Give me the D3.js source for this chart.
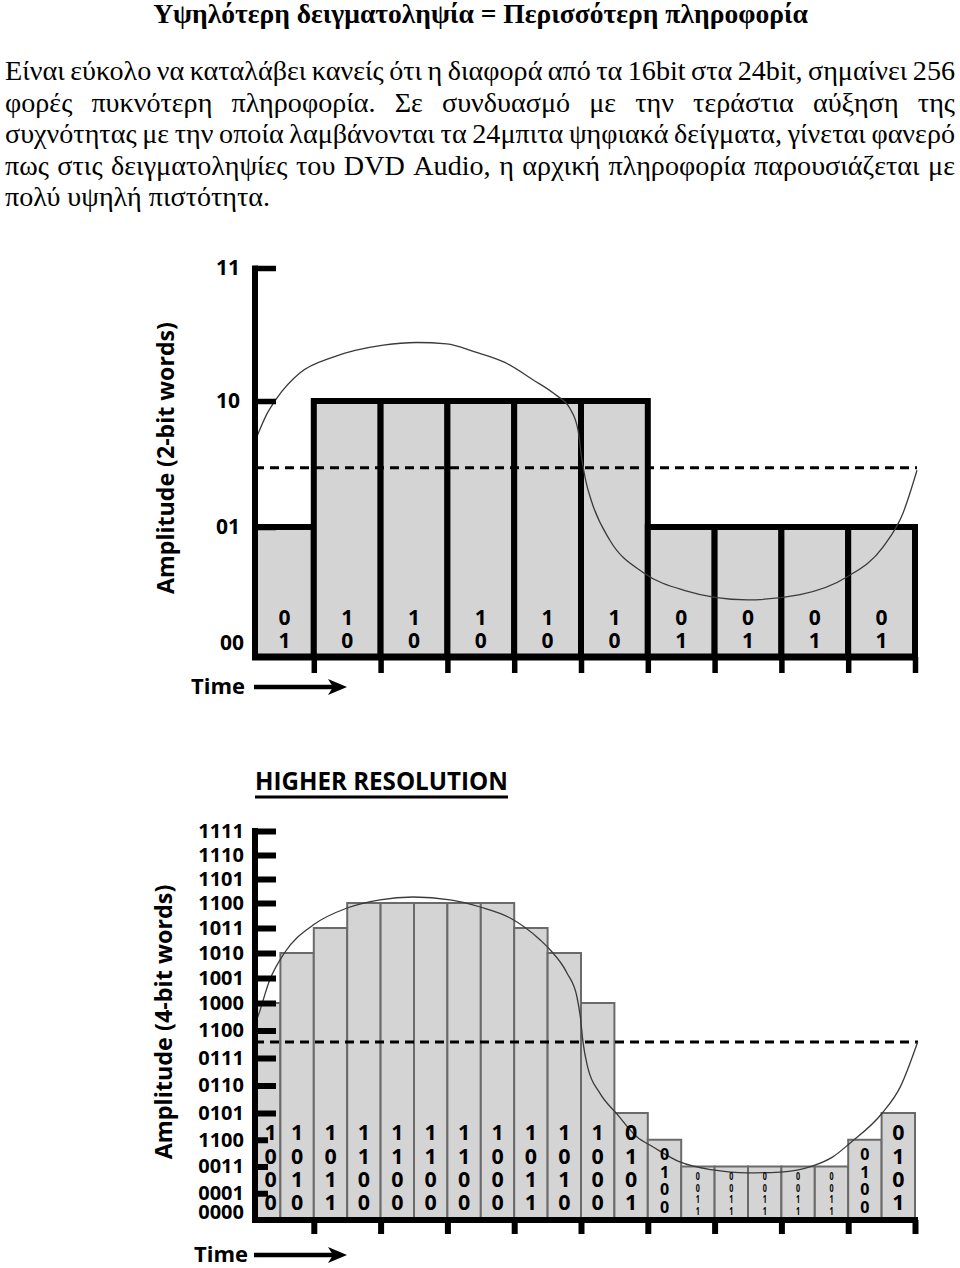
<!DOCTYPE html>
<html><head><meta charset="utf-8">
<script src="https://cdn.jsdelivr.net/npm/d3@7"></script>
<style>body{margin:0;background:#fff} svg{display:block}</style>
</head><body>
<script>
// ---------------- DATA ----------------
const titleText = "Υψηλότερη δειγματοληψία = Περισσότερη πληροφορία";
const paragraphLines = [
  "Είναι εύκολο να καταλάβει κανείς ότι η διαφορά από τα 16bit στα 24bit, σημαίνει 256",
  "φορές πυκνότερη πληροφορία. Σε συνδυασμό με την τεράστια αύξηση της",
  "συχνότητας με την οποία λαμβάνονται τα 24μπιτα ψηφιακά δείγματα, γίνεται φανερό",
  "πως στις δειγματοληψίες του DVD Audio, η αρχική πληροφορία παρουσιάζεται με",
  "πολύ υψηλή πιστότητα."
];

// Chart 1 : 2-bit words
const levels2 = ["00", "01", "10", "11"];
const samples2 = [1, 2, 2, 2, 2, 2, 1, 1, 1, 1];
const center2 = 1.47;
const curve2 = [[0.135,1.70],[0.30,1.90],[0.445,2.02],[0.79,2.21],[1.29,2.33],[2.04,2.42],[2.54,2.44],
  [2.99,2.43],[3.41,2.37],[3.86,2.29],[4.28,2.16],[4.61,2.05],[4.835,1.94],[4.955,1.77],
  [5.015,1.53],[5.07,1.37],[5.16,1.20],[5.43,0.90],[5.93,0.65],[6.53,0.515],[7.49,0.44],[8.28,0.48],[8.98,0.615],
  [9.52,0.846],[9.82,1.11],[10.03,1.45]];
const axisTitle2 = "Amplitude (2-bit words)";

// Chart 2 : 4-bit words
const chart2Title = "HIGHER RESOLUTION";
const levels4 = ["0000","0001","0011","1100","0101","0110","0111","1100","1000","1001","1010","1011","1100","1101","1110","1111"];
const samples4 = [8,10,11,12,12,12,12,12,11,10,8,4,3,2,2,2,2,2,3,4];
const words4 = ["1000","1010","1011","1100","1100","1100","1100","1000","1011","1010","1000","0101","0100","0011","0011","0011","0011","0011","0100","0101"];
const center4 = 6.58;
const curve4 = [[0.13,7.31],[0.16,7.49],[0.34,8.92],[0.57,10.04],[0.99,11.12],[1.50,11.8],[1.99,12.13],
  [2.49,12.25],[3.04,12.13],[3.49,11.84],[3.94,11.4],[4.39,10.52],[4.54,10.12],[4.79,9.2],[4.94,8.24],
  [4.99,7.49],[5.03,6.58],[5.10,5.67],[5.28,4.73],[5.54,3.96],[5.84,3.10],[6.08,2.73],[6.48,2.17],
  [6.98,1.87],[7.49,1.76],[7.98,1.79],[8.47,2.02],[8.77,2.36],[9.03,2.88],[9.51,4.0],[9.78,4.95],[10.04,6.58]];
const axisTitle4 = "Amplitude (4-bit words)";
const timeLabel = "Time";

// ---------------- SETUP ----------------
const W = 960, H = 1268;
const svg = d3.select("body").append("svg").attr("width", W).attr("height", H);
const serif = "'Liberation Serif','Times New Roman',serif";
const sans = "'Open Sans','Liberation Sans',Arial,sans-serif";
const barFill = "#d4d4d4";

function measure(text, family, size, weight) {
  const t = svg.append("text").attr("font-family", family).attr("font-size", size)
    .attr("font-weight", weight).text(text);
  const w = t.node().getComputedTextLength(); t.remove(); return w;
}
function fitSize(text, family, weight, target) {
  return 20 * target / measure(text, family, 20, weight);
}

// ---------------- TEXT ----------------
const titleSize = fitSize(titleText, serif, "bold", 655);
svg.append("text").attr("x", 480.5).attr("y", 23).attr("text-anchor", "middle")
  .attr("font-family", serif).attr("font-weight", "bold").attr("font-size", titleSize)
  .text(titleText);

const pSize = fitSize(paragraphLines[0], serif, "normal", 944) * 1.03;
const pLeft = 5, pRight = 955;
paragraphLines.forEach((line, li) => {
  const yb = 80 + li * 31.5;
  const words = line.split(" ");
  const ws = words.map(w => measure(w, serif, pSize, "normal"));
  const justify = li < paragraphLines.length - 1;
  const sp = justify ? (pRight - pLeft - d3.sum(ws)) / (words.length - 1) : pSize * 0.25;
  let cx = pLeft;
  words.forEach((w, i) => {
    svg.append("text").attr("x", cx).attr("y", yb).attr("font-family", serif)
      .attr("font-size", pSize).text(w);
    cx += ws[i] + sp;
  });
});

// ---------------- SHARED SCALES ----------------
const x = d3.scaleLinear().domain([0, 10]).range([247, 915]);
const axisX = 255;

function timeArrow(yC, textRight) {
  const ts = fitSize(timeLabel, sans, "bold", 54);
  svg.append("text").attr("x", textRight).attr("y", yC + 7).attr("text-anchor", "end")
    .attr("font-family", sans).attr("font-weight", "bold").attr("font-size", ts).text(timeLabel);
  const x0 = axisX - 1, x1 = axisX + 92;
  svg.append("line").attr("x1", x0).attr("x2", x1 - 12).attr("y1", yC).attr("y2", yC)
    .attr("stroke", "#000").attr("stroke-width", 4.5);
  svg.append("path").attr("d", `M${x1},${yC} L${x1 - 19},${yC - 8} L${x1 - 14},${yC} L${x1 - 19},${yC + 8} Z`)
    .attr("fill", "#000");
}

function axisTitle(text, cx, cy, len) {
  const s = fitSize(text, sans, "bold", len);
  svg.append("text").attr("transform", `translate(${cx},${cy}) rotate(-90)`)
    .attr("text-anchor", "middle").attr("dy", "0.35em")
    .attr("font-family", sans).attr("font-weight", "bold").attr("font-size", s).text(text);
}

// ---------------- CHART 1 ----------------
{
  const y = d3.scaleLinear().domain([0, 1, 2, 3]).range([657, 527, 401, 268]);
  const g = svg.append("g");
  g.selectAll("rect.b").data(samples2).join("rect").attr("class", "b")
    .attr("x", (d, i) => Math.max(x(i), axisX))
    .attr("width", (d, i) => x(i + 1) - Math.max(x(i), axisX))
    .attr("y", d => y(d)).attr("height", d => y(0) - y(d))
    .attr("fill", barFill).attr("stroke", "#000").attr("stroke-width", 6);
  g.append("line").attr("x1", axisX).attr("x2", x(10) + 2).attr("y1", y(center2)).attr("y2", y(center2))
    .attr("stroke", "#000").attr("stroke-width", 3).attr("stroke-dasharray", "9,6");
  g.append("path").datum(curve2)
    .attr("d", d3.line().x(d => x(d[0])).y(d => y(d[1])).curve(d3.curveMonotoneX))
    .attr("fill", "none").attr("stroke", "#3a3a3a").attr("stroke-width", 1.3);
  samples2.forEach((v, i) => {
    const cx = (Math.max(x(i), axisX) + x(i + 1)) / 2;
    const word = levels2[v];
    word.split("").forEach((c, j) => {
      g.append("text").attr("x", cx).attr("y", 617 + j * 23.5).attr("dy", "0.36em")
        .attr("text-anchor", "middle").attr("font-family", sans).attr("font-weight", "bold")
        .attr("font-size", 21).text(c);
    });
  });
  g.append("line").attr("x1", axisX).attr("x2", axisX).attr("y1", y(3) - 2.5).attr("y2", y(0) + 3)
    .attr("stroke", "#000").attr("stroke-width", 6);
  const tm = g.append("g").attr("transform", `translate(${axisX},0)`)
    .call(d3.axisRight(y).tickValues([1, 2, 3]).tickSize(21).tickFormat(""));
  tm.select(".domain").remove();
  tm.selectAll("line").attr("stroke", "#000").attr("stroke-width", 5.5);
  const tl = g.append("g").attr("transform", `translate(${axisX},0)`)
    .call(d3.axisLeft(y).tickValues([0, 1, 2, 3]).tickFormat(i => levels2[i]).tickSize(0).tickPadding(15));
  tl.select(".domain").remove();
  tl.selectAll("text").attr("font-family", sans).attr("font-weight", "bold").attr("font-size", 21)
    .attr("fill", "#000");
  tl.selectAll(".tick").filter(d => d === 0).select("text").attr("dy", "-0.34em").attr("x", -11);
  g.append("line").attr("x1", axisX - 3).attr("x2", x(10) + 3).attr("y1", y(0)).attr("y2", y(0))
    .attr("stroke", "#000").attr("stroke-width", 7);
  const xt = g.append("g").attr("transform", `translate(0,${y(0)})`)
    .call(d3.axisBottom(x).tickValues(d3.range(1, 11)).tickSize(16).tickFormat(""));
  xt.select(".domain").remove();
  xt.selectAll("line").attr("stroke", "#000").attr("stroke-width", 5.5);

  axisTitle(axisTitle2, 166, 458, 272);
  timeArrow(687, 245);
}

// ---------------- CHART 2 ----------------
{
  const y = d3.scaleLinear().domain([0, 4, 8, 12, 15]).range([1220, 1113, 1003, 903, 831]);
  const g = svg.append("g");
  const ts = fitSize(chart2Title, sans, "bold", 253);
  g.append("text").attr("x", axisX).attr("y", 790).attr("font-family", sans).attr("font-weight", "bold")
    .attr("font-size", ts).text(chart2Title);
  g.append("rect").attr("x", axisX).attr("y", 795.5).attr("width", 253).attr("height", 3).attr("fill", "#000");

  const bx0 = i => Math.max(x(i * 0.5), axisX);
  const bx1 = i => x((i + 1) * 0.5);
  g.selectAll("rect.b").data(samples4).join("rect").attr("class", "b")
    .attr("x", (d, i) => bx0(i)).attr("width", (d, i) => bx1(i) - bx0(i))
    .attr("y", d => y(d)).attr("height", d => y(0) - y(d))
    .attr("fill", barFill).attr("stroke", "#6a6a6a").attr("stroke-width", 2);
  g.append("line").attr("x1", axisX).attr("x2", x(10) + 3).attr("y1", y(center4)).attr("y2", y(center4))
    .attr("stroke", "#000").attr("stroke-width", 3).attr("stroke-dasharray", "9,6");
  g.append("path").datum(curve4)
    .attr("d", d3.line().x(d => x(d[0])).y(d => y(d[1])).curve(d3.curveMonotoneX))
    .attr("fill", "none").attr("stroke", "#3a3a3a").attr("stroke-width", 1.3);
  samples4.forEach((v, i) => {
    const cx = (bx0(i) + bx1(i)) / 2 + (i === 0 ? 3 : 0);
    const s = Math.min(23.3, (y(0) - y(v)) / 4.6);
    const fs = s * (s < 15 ? 0.85 : 0.92);
    const bottomC = y(0) - 0.75 * s;
    const sx = s < 15 ? 0.72 : 1;
    words4[i].split("").forEach((c, j) => {
      g.append("text").attr("transform", `translate(${cx},${bottomC - (3 - j) * s}) scale(${sx},1)`)
        .attr("dy", "0.36em").attr("text-anchor", "middle").attr("font-family", sans)
        .attr("font-weight", "bold").attr("font-size", fs).text(c);
    });
  });
  g.append("line").attr("x1", axisX).attr("x2", axisX).attr("y1", y(15) - 3).attr("y2", y(0) + 3)
    .attr("stroke", "#000").attr("stroke-width", 6);
  const tm = g.append("g").attr("transform", `translate(${axisX},0)`)
    .call(d3.axisRight(y).tickValues(d3.range(1, 16)).tickSize(21).tickFormat(""));
  tm.select(".domain").remove();
  tm.selectAll("line").attr("stroke", "#000").attr("stroke-width", 6);
  tm.selectAll(".tick").filter(d => d <= 3).select("line").attr("x2", 13);
  const tl = g.append("g").attr("transform", `translate(${axisX},0)`)
    .call(d3.axisLeft(y).tickValues(d3.range(0, 16)).tickFormat(i => levels4[i]).tickSize(0).tickPadding(11));
  tl.select(".domain").remove();
  tl.selectAll("text").attr("font-family", sans).attr("font-weight", "bold").attr("font-size", 20)
    .attr("fill", "#000");
  tl.selectAll(".tick").filter(d => d === 0).select("text").attr("dy", "-0.06em");
  g.append("line").attr("x1", axisX - 3).attr("x2", x(10) + 3).attr("y1", y(0)).attr("y2", y(0))
    .attr("stroke", "#000").attr("stroke-width", 6);
  const xt = g.append("g").attr("transform", `translate(0,${y(0)})`)
    .call(d3.axisBottom(x).tickValues(d3.range(1, 11)).tickSize(14).tickFormat(""));
  xt.select(".domain").remove();
  xt.selectAll("line").attr("stroke", "#000").attr("stroke-width", 6);

  axisTitle(axisTitle4, 164, 1022, 275);
  timeArrow(1255, 248);
}
</script>
</body></html>
